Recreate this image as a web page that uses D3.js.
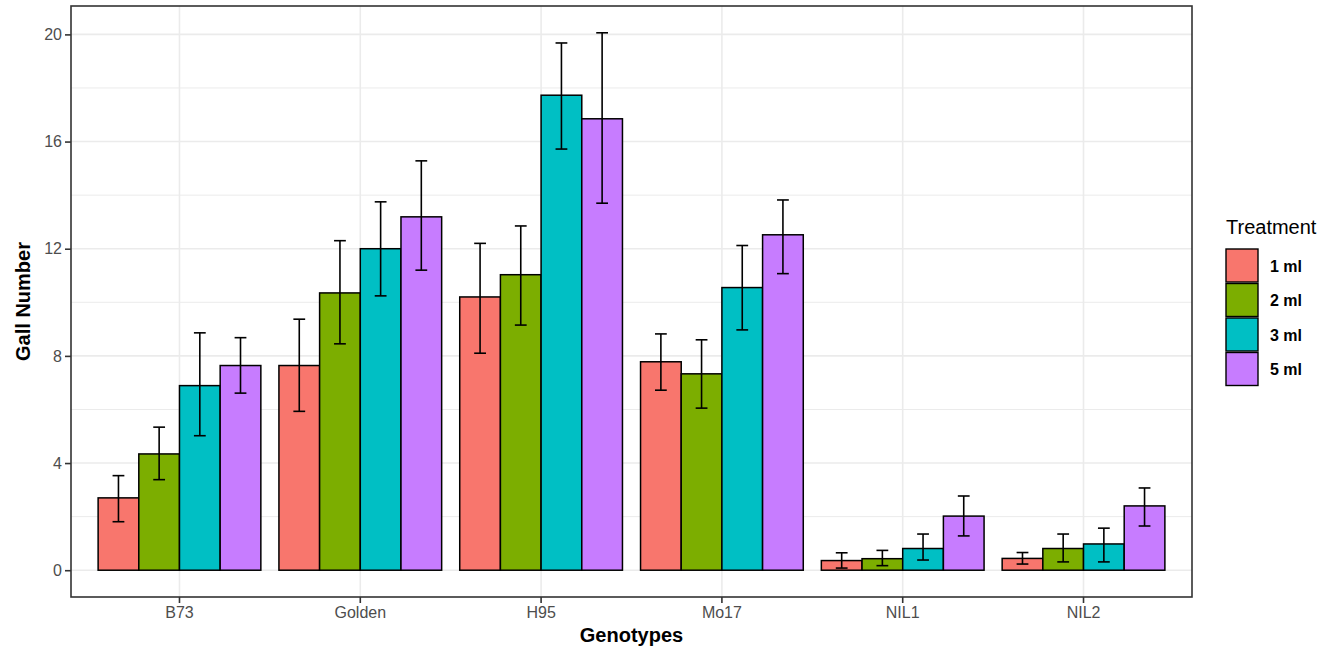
<!DOCTYPE html>
<html>
<head>
<meta charset="utf-8">
<script src="https://cdn.jsdelivr.net/npm/d3@7"></script>
<style>
  body { margin: 0; background: #fff; }
  svg { display: block; font-family: "Liberation Sans", Arial, sans-serif; }
</style>
</head>
<body>
<div id="chart"></div>
<script>
// genotypes on the x axis, treatments as dodged bars
const genotypes = ["B73", "Golden", "H95", "Mo17", "NIL1", "NIL2"];
const treatments = ["1 ml", "2 ml", "3 ml", "5 ml"];
const colors = ["#F8766D", "#7CAE00", "#00BFC4", "#C77CFF"];

// mean gall number, one array per treatment (ordered as genotypes)
const mean1 = [2.70, 7.64, 10.20, 7.78, 0.36, 0.44];
const mean2 = [4.34, 10.35, 11.03, 7.33, 0.43, 0.81];
const mean3 = [6.89, 12.00, 17.73, 10.55, 0.81, 0.98];
const mean5 = [7.64, 13.19, 16.85, 12.52, 2.02, 2.40];
// error bar upper / lower limits
const hi1 = [3.53, 9.37, 12.20, 8.82, 0.65, 0.66];
const lo1 = [1.81, 5.93, 8.10, 6.72, 0.08, 0.23];
const hi2 = [5.34, 12.30, 12.85, 8.60, 0.74, 1.35];
const lo2 = [3.38, 8.45, 9.15, 6.05, 0.17, 0.31];
const hi3 = [8.86, 13.75, 19.68, 12.12, 1.35, 1.57];
const lo3 = [5.02, 10.24, 15.72, 8.97, 0.38, 0.31];
const hi5 = [8.68, 15.28, 20.06, 13.82, 2.77, 3.07];
const lo5 = [6.61, 11.20, 13.70, 11.07, 1.28, 1.65];

const yTicks = [0, 4, 8, 12, 16, 20];
const yMinor = [2, 6, 10, 14, 18];

const means = [mean1, mean2, mean3, mean5];
const his = [hi1, hi2, hi3, hi5];
const los = [lo1, lo2, lo3, lo5];

const rows = [];
treatments.forEach((t, i) => {
    genotypes.forEach((g, j) => {
        rows.push({genotype: g, treatment: t, ti: i, value: means[i][j], hi: his[i][j], lo: los[i][j]});
    });
});

const width = 1343, height = 651;
const margin = {left: 71, right: 151, top: 6, bottom: 54};
const pw = width - margin.left - margin.right;
const ph = height - margin.top - margin.bottom;

const svg = d3.select("#chart").append("svg")
    .attr("width", width)
    .attr("height", height);

const g = svg.append("g")
    .attr("transform", "translate(" + margin.left + "," + margin.top + ")");

// ggplot-like discrete expansion: 0.6 units on each side of the first/last centre
const step = pw / (genotypes.length - 1 + 1.2);
const x = d3.scaleBand()
    .domain(genotypes)
    .range([0.1 * step, pw - 0.1 * step])
    .padding(0);

const groupW = x.bandwidth() * 0.9;
const xs = d3.scaleBand()
    .domain(treatments)
    .range([(x.bandwidth() - groupW) / 2, (x.bandwidth() + groupW) / 2]);

const y = d3.scaleLinear()
    .domain([-1.0, 21.06])
    .range([ph, 0]);

const color = d3.scaleOrdinal().domain(treatments).range(colors);

// grid
g.selectAll(".minor").data(yMinor).enter().append("line")
    .attr("x1", 0).attr("x2", pw)
    .attr("y1", d => y(d)).attr("y2", d => y(d))
    .attr("stroke", "#ebebeb").attr("stroke-width", 1);
g.selectAll(".major").data(yTicks).enter().append("line")
    .attr("x1", 0).attr("x2", pw)
    .attr("y1", d => y(d)).attr("y2", d => y(d))
    .attr("stroke", "#ebebeb").attr("stroke-width", 1.6);
g.selectAll(".vmajor").data(genotypes).enter().append("line")
    .attr("x1", d => x(d) + x.bandwidth() / 2).attr("x2", d => x(d) + x.bandwidth() / 2)
    .attr("y1", 0).attr("y2", ph)
    .attr("stroke", "#ebebeb").attr("stroke-width", 1.6);

// bars
g.selectAll(".bar").data(rows).enter().append("rect")
    .attr("x", d => x(d.genotype) + xs(d.treatment))
    .attr("width", xs.bandwidth())
    .attr("y", d => y(d.value))
    .attr("height", d => y(0) - y(d.value))
    .attr("fill", d => color(d.treatment))
    .attr("stroke", "#000")
    .attr("stroke-width", 1.5);

// error bars
const capW = xs.bandwidth() * 0.29;
const eb = g.selectAll(".err").data(rows).enter().append("g")
    .attr("transform", d => "translate(" + (x(d.genotype) + xs(d.treatment) + xs.bandwidth() / 2) + ",0)")
    .attr("stroke", "#000").attr("stroke-width", 1.6);
eb.append("line").attr("x1", 0).attr("x2", 0)
    .attr("y1", d => y(d.hi)).attr("y2", d => y(d.lo));
eb.append("line").attr("x1", -capW / 2).attr("x2", capW / 2)
    .attr("y1", d => y(d.hi)).attr("y2", d => y(d.hi));
eb.append("line").attr("x1", -capW / 2).attr("x2", capW / 2)
    .attr("y1", d => y(d.lo)).attr("y2", d => y(d.lo));

// panel border
g.append("rect")
    .attr("width", pw).attr("height", ph)
    .attr("fill", "none").attr("stroke", "#333").attr("stroke-width", 1.6);

// axes
const yAxis = g.append("g")
    .call(d3.axisLeft(y).tickValues(yTicks).tickSize(6).tickPadding(3));
const xAxis = g.append("g")
    .attr("transform", "translate(0," + ph + ")")
    .call(d3.axisBottom(x).tickSize(6).tickPadding(4));
[yAxis, xAxis].forEach(a => {
    a.select(".domain").remove();
    a.selectAll(".tick line").attr("stroke", "#333").attr("stroke-width", 1.6);
    a.selectAll(".tick text").attr("fill", "#4d4d4d").style("font-size", "16px");
});

// axis titles
svg.append("text")
    .attr("x", margin.left + pw / 2).attr("y", 642)
    .attr("text-anchor", "middle")
    .style("font-size", "20px").style("font-weight", "bold")
    .text("Genotypes");
svg.append("text")
    .attr("transform", "translate(30," + (margin.top + ph / 2) + ") rotate(-90)")
    .attr("text-anchor", "middle")
    .style("font-size", "20px").style("font-weight", "bold")
    .text("Gall Number");

// legend
const legend = svg.append("g").attr("transform", "translate(1226,0)");
legend.append("text")
    .attr("x", 0).attr("y", 234)
    .style("font-size", "20px")
    .text("Treatment");
const keyH = 34.5;
const items = legend.selectAll(".item").data(treatments).enter().append("g")
    .attr("transform", (d, i) => "translate(0," + (249 + i * keyH) + ")");
items.append("rect")
    .attr("width", 32).attr("height", keyH - 1.5)
    .attr("fill", d => color(d))
    .attr("stroke", "#000").attr("stroke-width", 1.4);
items.append("text")
    .attr("x", 44).attr("y", keyH / 2 + 5.5)
    .style("font-size", "16px").style("font-weight", "bold")
    .text(d => d);
</script>
</body>
</html>
